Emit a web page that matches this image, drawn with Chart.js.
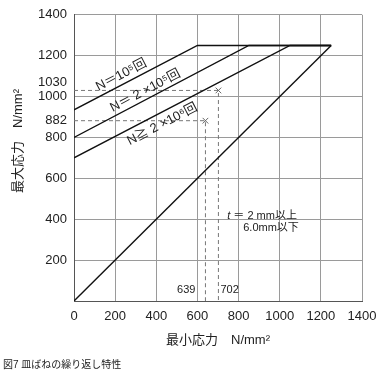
<!DOCTYPE html>
<html>
<head>
<meta charset="utf-8">
<script src="https://cdn.jsdelivr.net/npm/chart.js@4/dist/chart.umd.min.js"></script>
<style>
  html, body { margin:0; padding:0; background:#fff; }
  #wrap { width:386px; height:375px; position:relative; }
</style>
</head>
<body>
<div id="wrap"><canvas id="c" width="386" height="375"></canvas></div>
<script>
// 値 (N/mm²)
const curve1X = [0, 600, 1250];   // N=10^5回
const curve1Y = [935, 1250, 1250];
const curve2X = [0, 850, 1250];   // N=2×10^5回
const curve2Y = [800, 1250, 1250];
const curve3X = [0, 1050, 1250];  // N≧2×10^6回
const curve3Y = [700, 1250, 1250];
const diagX = [0, 1250];
const diagY = [0, 1250];
const markX = [702, 639];
const markY = [1030, 882];
const xTicks = [0, 200, 400, 600, 800, 1000, 1200, 1400];
const yTicks = [0, 200, 400, 600, 800, 882, 1000, 1030, 1200, 1400];
const curveLabels = ['N＝10⁵回', 'N＝ 2 ×10⁵回', 'N≧ 2 ×10⁶回'];

const FONT = '"Liberation Sans", "Noto Sans CJK JP", sans-serif';
const pts = (xs, ys) => xs.map((x, i) => ({ x, y: ys[i] }));

function lineSet(xs, ys){
  return { data: pts(xs, ys), showLine:true, borderColor:'#111', borderWidth:1.4, pointRadius:0, fill:false };
}
function dashSet(x, y){
  return { data: [{x:0, y}, {x, y}, {x, y:0}], showLine:true, borderColor:'#777', borderWidth:1,
           borderDash:[4,3], pointRadius:0, fill:false };
}

const textPlugin = {
  id:'texts',
  afterDatasetsDraw(chart){
    const {ctx} = chart;
    const xs = chart.scales.x, ys = chart.scales.y;
    const P = (x, y) => [xs.getPixelForValue(x), ys.getPixelForValue(y)];
    ctx.save();
    ctx.fillStyle = '#222';

    // 曲線ラベル (線に沿って回転)
    const curves = [[curve1X, curve1Y], [curve2X, curve2Y], [curve3X, curve3Y]];
    const at = [250, 365, 405], off = [9, 8, -11];
    curves.forEach(([cx, cy], i) => {
      const [x0, y0] = P(cx[0], cy[0]), [x1, y1] = P(cx[1], cy[1]);
      const ang = Math.atan2(y1 - y0, x1 - x0);
      const t = (at[i] - cx[0]) / (cx[1] - cx[0]);
      const py = cy[0] + t * (cy[1] - cy[0]);
      const [ax, ay] = P(at[i], py);
      ctx.save();
      ctx.translate(ax, ay);
      ctx.rotate(ang);
      ctx.font = '13px ' + FONT;
      ctx.textAlign = 'center';
      ctx.textBaseline = 'middle';
      ctx.fillText(curveLabels[i], 0, -off[i]);
      ctx.restore();
    });

    // 639 / 702
    ctx.font = '11px ' + FONT;
    ctx.textBaseline = 'middle';
    const [p639] = P(639, 0), [p702, yb] = P(702, 0);
    ctx.textAlign = 'right';
    ctx.fillText(String(markX[1]), p639 - 10, yb - 11);
    ctx.textAlign = 'left';
    ctx.fillText(String(markX[0]), p702 + 2, yb - 11);

    // 板厚
    const [tx, ty] = P(745, 418);
    ctx.textAlign = 'left';
    ctx.font = 'italic 11px ' + FONT;
    ctx.fillText('t', tx, ty);
    const tw = ctx.measureText('t').width;
    ctx.font = '11px ' + FONT;
    ctx.fillText(' ＝ 2 mm以上', tx + tw, ty);
    ctx.fillText('6.0mm以下', tx + 16, ty + 12);

    // 縦軸タイトル
    ctx.save();
    ctx.translate(18, 141);
    ctx.rotate(-Math.PI / 2);
    ctx.textAlign = 'center';
    ctx.font = '13px ' + FONT;
    ctx.fillText('最大応力　N/mm²', 0, 0);
    ctx.restore();

    // 図番号
    ctx.textAlign = 'left';
    ctx.font = '10px ' + FONT;
    ctx.fillText('図7 皿ばねの繰り返し特性', 3, 365);
    ctx.restore();
  }
};

new Chart(document.getElementById('c'), {
  type:'scatter',
  data:{
    datasets:[
      lineSet(curve1X, curve1Y),
      lineSet(curve2X, curve2Y),
      lineSet(curve3X, curve3Y),
      lineSet(diagX, diagY),
      dashSet(markX[0], markY[0]),
      dashSet(markX[1], markY[1]),
      { data: pts(markX, markY), pointStyle:'crossRot', pointRadius:4, borderColor:'#666',
        borderWidth:1, showLine:false }
    ]
  },
  options:{
    responsive:false,
    animation:false,
    layout:{ padding:{ left:0, top:12, right:24, bottom:0 } },
    plugins:{ legend:{ display:false }, tooltip:{ enabled:false } },
    scales:{
      x:{
        type:'linear', min:0, max:1400,
        afterBuildTicks: s => { s.ticks = xTicks.map(v => ({ value:v })); },
        afterFit: s => { s.height = 74; },
        grid:{ color:'#9a9a9a', lineWidth:1, drawTicks:false },
        border:{ color:'#555', width:1 },
        ticks:{ padding:8, autoSkip:false, maxRotation:0, color:'#222', font:{ size:13, family:FONT },
                callback: v => String(v) },
        title:{ display:true, text:'最小応力　N/mm²', color:'#222', padding:{ top:0, bottom:27 },
                font:{ size:13, family:FONT } }
      },
      y:{
        type:'linear', min:0, max:1400,
        afterBuildTicks: s => { s.ticks = yTicks.map(v => ({ value:v })); },
        afterFit: s => { s.width = 74; },
        grid:{ color: c => (c.tick && c.tick.value % 200 === 0) ? '#9a9a9a' : 'rgba(0,0,0,0)',
               lineWidth:1, drawTicks:false },
        border:{ color:'#555', width:1 },
        ticks:{ padding:7, autoSkip:false, color:'#222', font:{ size:13, family:FONT },
                callback: v => v === 0 ? '' : (v === 1030 ? [String(v), ''] : String(v)) }
      }
    }
  },
  plugins:[textPlugin]
});
</script>
</body>
</html>
